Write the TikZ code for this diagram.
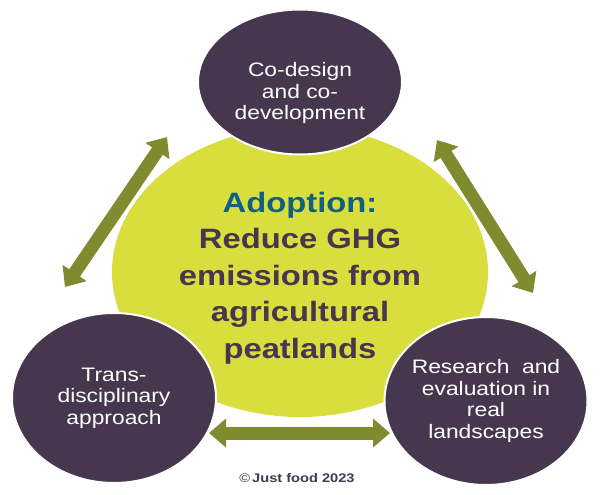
\documentclass[tikz,border=0pt]{standalone}
\usepackage{fontspec}
\setmainfont{Liberation Sans}[FakeStretch=1.17]
\usetikzlibrary{shapes.geometric,arrows.meta}
\definecolor{bubbleplum}{HTML}{46374F}
\definecolor{hubgreen}{HTML}{D8DE3E}
\definecolor{linkgreen}{HTML}{7F8B2E}
\definecolor{adoptblue}{HTML}{10607F}

\begin{document}
\begin{tikzpicture}[x=1pt,y=-1pt,
  bubble/.style={ellipse, fill=bubbleplum, draw=white, line width=2pt, inner sep=0pt,
    minimum width=204pt, minimum height=168pt},
  bubbletext/.style={text=white, align=center, font=\fontsize{19.5}{21.5}\selectfont},
  hub/.style={ellipse, fill=hubgreen, inner sep=0pt, minimum width=376pt, minimum height=290pt},
  link/.style={linkgreen, line width=13pt,
    {Triangle[width=28pt,length=17pt]}-{Triangle[width=28pt,length=17pt]}}
]
\useasboundingbox (0,0) rectangle (600,495);

% centre
\node[hub] (hub) at (300,272) {};
\node[text=bubbleplum, align=center, font=\bfseries\fontsize{28}{36.5}\selectfont] (goal) at (300,278)
  {{\color{adoptblue}Adoption:}\\Reduce GHG\\emissions from\\agricultural\\peatlands};

% the three bubbles
\node[bubble, minimum height=145pt] (codesign) at (300,82) {};
\node[bubbletext] (codesigntext) at ([yshift=-11pt]codesign.center) {Co-design\\and co-\\development};
\node[bubble, minimum height=170pt] (trans) at (114,398) {};
\node[bubbletext] (transtext) at (trans.center) {Trans-\\disciplinary\\approach};
\node[bubble, minimum width=203pt] (research) at (486,401) {};
\node[bubbletext] (researchtext) at (research.center) {Research~ and\\evaluation in\\real\\landscapes};

% arrows between the bubbles
\coordinate (leftlow) at (65,287);
\coordinate (lefthigh) at (167,137);
\coordinate (righthigh) at (437,140);
\coordinate (rightlow) at (533,293);
\coordinate (bottomleft) at (209,433);
\coordinate (bottomright) at (390,433);
\draw[link] (leftlow) -- (lefthigh);
\draw[link] (righthigh) -- (rightlow);
\draw[link] (bottomleft) -- (bottomright);

\node[text=bubbleplum, font=\bfseries\fontsize{12.5}{14}\selectfont] (credit) at (297,478)
  {{\mdseries\textcopyright}\,Just food 2023};
\end{tikzpicture}
\end{document}
